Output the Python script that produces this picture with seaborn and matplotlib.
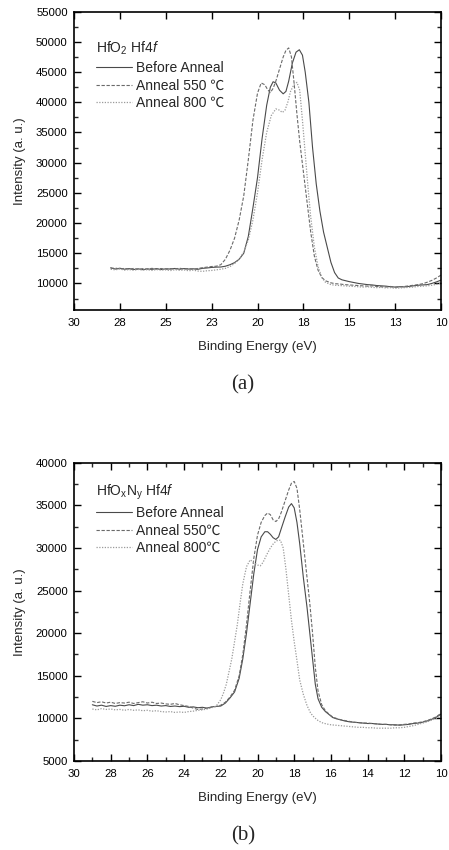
import numpy as np
import pandas as pd
import matplotlib
matplotlib.use("Agg")
import matplotlib.pyplot as plt
import seaborn as sns

# ---------------- data: panel (a) HfO2 Hf4f ----------------
base_a_x = [28.0, 27.75, 27.5, 27.25, 27.0, 26.75, 26.5, 26.25, 26.0, 25.75, 25.5, 25.25,
            25.0, 24.75, 24.5, 24.25, 24.0, 23.75, 23.5, 23.25, 23.0, 22.75, 22.5, 22.25]
tail_a_x = [14.75, 14.5, 14.25, 14.0, 13.75, 13.5, 13.25, 13.0, 12.75, 12.5, 12.25, 12.0,
            11.75, 11.5, 11.25, 11.0, 10.75, 10.5, 10.25, 10.0]

a_before_x = base_a_x + [22.0, 21.75, 21.5, 21.25, 21.0, 20.75, 20.5, 20.25, 20.0,
                         19.75, 19.5, 19.3, 19.15, 19.0, 18.8, 18.6, 18.45, 18.3, 18.1, 17.9, 17.72,
                         17.55, 17.4, 17.2, 17.0,
                         16.8, 16.6, 16.4, 16.2, 16.0, 15.8, 15.6, 15.4, 15.2, 15.0] + tail_a_x
a_before_y = [12600, 12380, 12520, 12350, 12450, 12300, 12420, 12280, 12400, 12330, 12450, 12300,
              12420, 12380, 12480, 12350, 12460, 12380, 12420, 12340, 12500, 12560, 12650, 12700,
              12720, 12850, 13100, 13450, 14000, 15000, 17800, 22500, 27500,
              34000, 39500, 42500, 43400, 43200, 42000, 41400, 41800, 43500, 46500, 48300, 48700,
              47800, 45000, 40000, 32500,
              26500, 22000, 18500, 16000, 13500, 11800, 10900, 10600, 10450, 10300,
              10150, 10000, 9900, 9800, 9750, 9650, 9600, 9550, 9450, 9400, 9450, 9420,
              9500, 9600, 9700, 9750, 9800, 10000, 10250, 10550]

a_550_x = base_a_x + [22.0, 21.75, 21.5, 21.25, 21.0, 20.75, 20.5, 20.25, 20.0,
                      19.8, 19.6, 19.45, 19.3, 19.15, 19.0, 18.8, 18.6, 18.45, 18.3, 18.15, 18.0,
                      17.85, 17.7, 17.5, 17.3, 17.1, 16.9, 16.7, 16.5, 16.3,
                      16.0, 15.75, 15.5, 15.25, 15.0] + tail_a_x
a_550_y = [12450, 12550, 12380, 12500, 12350, 12480, 12330, 12450, 12380, 12500, 12360, 12470,
           12330, 12450, 12400, 12520, 12380, 12450, 12340, 12480, 12600, 12700, 12800, 12850,
           13100, 14000, 15500, 17500, 20500, 24500, 30500, 37000, 41500,
           43200, 42900, 42100, 41600, 42300, 43500, 45500, 47500, 48600, 49000, 47500, 43000,
           38000, 33500, 28500, 23500, 18500, 14500, 12200, 11000, 10450,
           10100, 9950, 9900, 9800, 9750,
           9700, 9650, 9600, 9550, 9600, 9500, 9450, 9400, 9500, 9350, 9450, 9500,
           9600, 9700, 9800, 9950, 10200, 10500, 10900, 11380]

a_800_x = base_a_x + [22.0, 21.75, 21.5, 21.25, 21.0, 20.75, 20.5, 20.25, 20.0,
                      19.75, 19.5, 19.25, 19.0, 18.8, 18.65, 18.5, 18.35, 18.2, 18.0,
                      17.85, 17.7, 17.55, 17.4, 17.25, 17.1, 16.9, 16.7, 16.5, 16.3,
                      16.0, 15.75, 15.5, 15.25, 15.0] + tail_a_x
a_800_y = [12350, 12250, 12400, 12200, 12300, 12180, 12320, 12200, 12280, 12150, 12300, 12200,
           12250, 12120, 12280, 12180, 12230, 12100, 12200, 12050, 12000, 12100, 12150, 12250,
           12350, 12500, 12800, 13300, 14000, 15200, 17200, 20500, 25000,
           30500, 35000, 37800, 38900, 38700, 38300, 38700, 40000, 41800, 43000,
           43300, 42000, 37000, 31500, 26000, 21000, 16000, 12800, 11000, 10200,
           9800, 9700, 9650, 9600, 9550,
           9500, 9450, 9400, 9450, 9350, 9300, 9350, 9250, 9300, 9200, 9250, 9300,
           9350, 9400, 9500, 9550, 9600, 9700, 9850, 10100]

# ---------------- data: panel (b) HfOxNy Hf4f ----------------
base_b_x = [29.0, 28.75, 28.5, 28.25, 28.0, 27.75, 27.5, 27.25, 27.0, 26.75, 26.5, 26.25,
            26.0, 25.75, 25.5, 25.25, 25.0, 24.75, 24.5, 24.25, 24.0, 23.75, 23.5, 23.25,
            23.0, 22.75, 22.5, 22.25]

b_x = base_b_x + [22.0, 21.75, 21.5, 21.25, 21.0,
                  20.8, 20.6, 20.4, 20.2, 20.0, 19.8, 19.6, 19.45, 19.3, 19.15, 19.0, 18.85,
                  18.7, 18.5, 18.3, 18.15, 18.0, 17.85, 17.7, 17.5, 17.3, 17.15, 17.0, 16.85,
                  16.7, 16.5, 16.3, 16.1, 15.9, 15.7, 15.5,
                  15.25, 15.0, 14.75, 14.5, 14.25, 14.0, 13.75, 13.5, 13.25, 13.0, 12.75,
                  12.5, 12.25, 12.0, 11.75, 11.5, 11.25, 11.0, 10.75, 10.5, 10.25, 10.0]
b_before_y = [11600, 11450, 11550, 11400, 11500, 11420, 11550, 11480, 11600, 11500, 11650, 11550,
              11600, 11500, 11550, 11450, 11500, 11400, 11450, 11380, 11420, 11300, 11350, 11250,
              11300, 11200, 11350, 11400,
              11450, 11800, 12400, 13100, 14700,
              17000, 20000, 23500, 27000, 29800, 31300, 31900, 31900, 31600, 31200, 31000, 31300,
              32300, 33600, 34800, 35200, 34700, 33000, 30500, 26500, 23000, 20000, 17000, 14000,
              12300, 11300, 10800, 10450, 10100, 9950, 9850,
              9700, 9600, 9550, 9500, 9450, 9400, 9400, 9350, 9300, 9300, 9250,
              9250, 9200, 9250, 9300, 9400, 9450, 9550, 9700, 9900, 10150, 10500]
b_550_y = [12000, 11850, 11950, 11800, 11900, 11750, 11850, 11800, 11900, 11750, 11850, 11950,
           11800, 11900, 11750, 11800, 11700, 11650, 11750, 11600, 11500, 11400, 11200, 11050,
           11100, 11200, 11300, 11400,
           11550, 11900, 12500, 13300, 15000,
           17500, 21000, 25000, 28800, 31500, 33000, 33800, 34100, 33900, 33300, 33100, 33400,
           34200, 35500, 36800, 37600, 37800, 37000, 34500, 30500, 26500, 23500, 20000, 16000,
           13200, 11600, 10900, 10500, 10150, 10000, 9850,
           9750, 9650, 9550, 9500, 9450, 9450, 9400, 9350, 9300, 9300, 9250,
           9200, 9250, 9300, 9350, 9450, 9500, 9600, 9750, 9950, 10200, 10600]

b_800_x = base_b_x + [22.0, 21.85, 21.7, 21.55, 21.4, 21.25, 21.1, 20.95, 20.8, 20.6, 20.4,
                      20.2, 20.0, 19.85, 19.7, 19.5, 19.3, 19.1, 18.9, 18.75, 18.6, 18.45, 18.3,
                      18.15, 18.0, 17.85, 17.7, 17.5, 17.3, 17.1, 16.9, 16.7, 16.5,
                      16.25, 16.0, 15.75, 15.5, 15.25, 15.0, 14.75, 14.5, 14.25, 14.0, 13.75,
                      13.5, 13.25, 13.0, 12.75, 12.5, 12.25, 12.0, 11.75, 11.5, 11.25, 11.0,
                      10.75, 10.5, 10.25, 10.0]
b_800_y = [11100, 11000, 11150, 11050, 11100, 11000, 11050, 10950, 11050, 10950, 11000, 10900,
           10950, 10850, 10900, 10800, 10750, 10800, 10700, 10750, 10700, 10800, 10850, 10950,
           11000, 11100, 11250, 11450,
           12200, 13000, 14000, 15500, 17000, 19000, 21000, 23500, 25800, 27800, 28600,
           28300, 28000, 27900, 28300, 29200, 30000, 30600, 30900, 30900, 30000, 27500, 24500,
           21500, 19000, 16800, 14500, 12800, 11500, 10600, 10100, 9750, 9500,
           9350, 9250, 9200, 9150, 9100, 9050, 9000, 8950, 8950, 8900, 8900,
           8850, 8850, 8850, 8850, 8900, 8900, 8950, 9050, 9150, 9300,
           9450, 9600, 9800, 10000, 10250]

series_labels_a = ["Before Anneal", "Anneal 550 \u2103", "Anneal 800 \u2103"]
series_labels_b = ["Before Anneal", "Anneal 550\u2103", "Anneal 800\u2103"]
title_a = r"HfO$_2$ Hf4$f$"
title_b = r"HfO$_\mathregular{x}$N$_\mathregular{y}$ Hf4$f$"
xticks_a = [30, 27.5, 25, 22.5, 20, 17.5, 15, 12.5, 10]
xticklabels_a = ["30", "28", "25", "23", "20", "18", "15", "13", "10"]
xticks_b = [30, 28, 26, 24, 22, 20, 18, 16, 14, 12, 10]
yticks_a = [10000, 15000, 20000, 25000, 30000, 35000, 40000, 45000, 50000, 55000]
yticks_b = [5000, 10000, 15000, 20000, 25000, 30000, 35000, 40000]

# ---------------- styling ----------------
sns.set_theme(style="ticks")
plt.rcParams["font.family"] = ["Liberation Sans", "Noto Sans CJK SC", "DejaVu Sans"]
plt.rcParams["mathtext.fontset"] = "custom"
plt.rcParams["mathtext.rm"] = "Liberation Sans"
plt.rcParams["mathtext.it"] = "Liberation Sans:italic"
plt.rcParams["mathtext.bf"] = "Liberation Sans:bold"

styles = [("-", "#4a4a4a", 0.8), ((0, (3, 1.5)), "#6a6a6a", 0.8), ((0, (1, 1.2)), "#9a9a9a", 0.9)]

W, H = 449, 850
fig = plt.figure(figsize=(W / 100, H / 100), dpi=100)
ax_a = fig.add_axes([74 / W, 1 - 310 / H, (441 - 74) / W, (310 - 11.7) / H])
ax_b = fig.add_axes([74 / W, 1 - 761 / H, (441 - 74) / W, (761 - 462.7) / H])


def draw(ax, xs, ys, labels):
    for (x, y, lab, (ls, col, lw)) in zip(xs, ys, labels, styles):
        df = pd.DataFrame({"Binding Energy (eV)": x, "Intensity": y})
        sns.lineplot(data=df, x="Binding Energy (eV)", y="Intensity", ax=ax, label=lab,
                     color=col, linewidth=lw, linestyle=ls, estimator=None, sort=False)


draw(ax_a, [a_before_x, a_550_x, a_800_x], [a_before_y, a_550_y, a_800_y], series_labels_a)
draw(ax_b, [b_x, b_x, b_800_x], [b_before_y, b_550_y, b_800_y], series_labels_b)

from matplotlib.ticker import MultipleLocator, NullLocator

for ax, ylim, yt, title, legy in [(ax_a, (5600, 55000), yticks_a, title_a, 0.905),
                                  (ax_b, (5000, 40000), yticks_b, title_b, 0.932)]:
    ax.set_xlim(30, 10)
    ax.set_ylim(*ylim)
    ax.set_yticks(yt)
    ax.set_yticklabels([str(v) for v in yt])
    ax.yaxis.set_minor_locator(MultipleLocator(2500))
    for s in ax.spines.values():
        s.set_visible(True)
        s.set_linewidth(1.2)
        s.set_color("black")
    ax.tick_params(which="major", direction="in", length=5, width=1.0, top=True, right=True,
                   labelsize=8.2, colors="black")
    ax.tick_params(axis="x", which="major", pad=6)
    ax.tick_params(axis="y", which="major", pad=4.5)
    ax.tick_params(which="minor", direction="in", length=3, width=1.0, top=True, right=True)
    ax.set_xlabel("Binding Energy (eV)", fontsize=9.5, labelpad=9)
    ax.set_ylabel("Intensity (a. u.)", fontsize=9.5, labelpad=7)
    leg = ax.legend(title=title, loc="upper left", bbox_to_anchor=(0.06, legy),
                    frameon=False, fontsize=10, title_fontproperties={"size": 10},
                    handlelength=2.6, handletextpad=0.3, labelspacing=0.26,
                    borderpad=0, borderaxespad=0, alignment="left")

ax_a.set_xticks(xticks_a)
ax_a.set_xticklabels(xticklabels_a)
ax_a.xaxis.set_minor_locator(NullLocator())
ax_b.set_xticks(xticks_b)
ax_b.set_xticklabels([str(v) for v in xticks_b])
ax_b.xaxis.set_minor_locator(MultipleLocator(1))

fig.text(243 / W, 1 - 385 / H, "(a)", ha="center", va="center", fontsize=15,
         family="Liberation Serif")
fig.text(243 / W, 1 - 836 / H, "(b)", ha="center", va="center", fontsize=15,
         family="Liberation Serif")

fig.savefig("out.png", dpi=100)
